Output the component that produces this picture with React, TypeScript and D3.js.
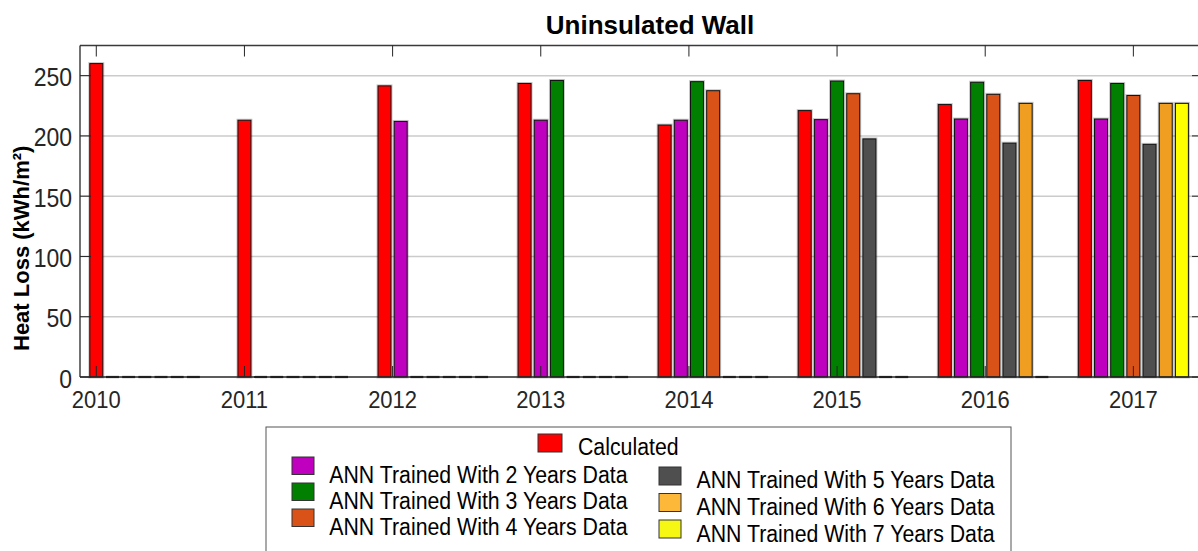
import React from "react";
import * as d3 from "d3";

const years = [2010, 2011, 2012, 2013, 2014, 2015, 2016, 2017];
const calculated = [260, 213, 241.5, 243.5, 209, 221, 226, 246];
const ann2 = [0, 0, 212, 213, 213, 213.5, 214, 214];
const ann3 = [0, 0, 0, 246, 245, 245.5, 244.5, 243.5];
const ann4 = [0, 0, 0, 0, 237.5, 235, 234.5, 233.5];
const ann5 = [0, 0, 0, 0, 0, 197.5, 194, 193];
const ann6 = [0, 0, 0, 0, 0, 0, 227, 227];
const ann7 = [0, 0, 0, 0, 0, 0, 0, 227];
const yTicks = [0, 50, 100, 150, 200, 250];
const seriesNames = [
  "Calculated",
  "ANN Trained With 2 Years Data",
  "ANN Trained With 3 Years Data",
  "ANN Trained With 4 Years Data",
  "ANN Trained With 5 Years Data",
  "ANN Trained With 6 Years Data",
  "ANN Trained With 7 Years Data",
];
const series = [calculated, ann2, ann3, ann4, ann5, ann6, ann7];
const barColors = ["#FF0000", "#BF00BF", "#007F00", "#D95319", "#4F4F4F", "#EF9E22", "#FFFF00"];
const legendColors = ["#FF0000", "#BF00BF", "#007F00", "#D95319", "#4F4F4F", "#FDB83A", "#F7F714"];

const W = 1198;
const H = 551;
const left = 80;
const right = 1203;
const top = 45.5;
const bottom = 377;
const FONT = "'Liberation Sans', Arial, Helvetica, sans-serif";

export default function App() {
  const x = d3.scaleLinear().domain([2009.89, 2017.47]).range([left, right]);
  const y = d3.scaleLinear().domain([0, 275]).range([bottom, top]);
  const slot = x(2010 + 0.1092) - x(2010);
  const bw = x(2010 + 0.0876) - x(2010);

  const bars: any[] = [];
  years.forEach((yr, gi) => {
    const n = series.filter((s) => s[gi] > 0).length;
    series.forEach((s, si) => {
      const cx = x(yr) + (si - (n - 1) / 2) * slot;
      bars.push({ key: `${gi}-${si}`, cx, v: s[gi], si });
    });
  });

  const col1 = [1, 2, 3];
  const col2 = [4, 5, 6];
  const LT = (tx: number, ty: number) => `translate(${tx},${ty}) scale(1,1.08)`;

  return (
    <svg width={W} height={H} style={{ position: "absolute", left: 0, top: 0, background: "#fff" }} fontFamily={FONT}>
      <rect x={0} y={0} width={W} height={H} fill="#fff" />
      {yTicks.filter((t) => t > 0).map((t) => (
        <line key={"g" + t} x1={left} x2={right} y1={y(t)} y2={y(t)} stroke="#CBCBCB" strokeWidth={1.5} />
      ))}
      {bars.map((b) =>
        b.v > 0 ? (
          <g key={b.key}>
            <rect x={b.cx - bw / 2} y={y(b.v)} width={bw} height={y(0) - y(b.v)} fill="none" stroke="rgba(0,0,0,0.22)" strokeWidth={3} />
            <rect x={b.cx - bw / 2} y={y(b.v)} width={bw} height={y(0) - y(b.v)} fill={barColors[b.si]} stroke="#111" strokeWidth={1} />
          </g>
        ) : (
          <line key={b.key} x1={b.cx - bw / 2} x2={b.cx + bw / 2} y1={y(0)} y2={y(0)} stroke="#111" strokeWidth={2.2} />
        )
      )}
      <line x1={left} x2={right} y1={top} y2={top} stroke="#3a3a3a" strokeWidth={1.3} />
      <line x1={left} x2={right} y1={bottom} y2={bottom} stroke="#262626" strokeWidth={1.5} />
      <line x1={left} x2={left} y1={top} y2={bottom} stroke="#262626" strokeWidth={1.3} />
      <line x1={right} x2={right} y1={top} y2={bottom} stroke="#262626" strokeWidth={1.3} />
      {yTicks.map((t) => (
        <g key={"yt" + t}>
          <line x1={left} x2={left + 11} y1={y(t)} y2={y(t)} stroke="#262626" strokeWidth={1} />
          <line x1={right - 11} x2={right} y1={y(t)} y2={y(t)} stroke="#262626" strokeWidth={1} />
          <text transform={`translate(72,${y(t) + 10.5}) scale(1,1.1)`} textAnchor="end" fontSize={23} fill="#262626">{t}</text>
        </g>
      ))}
      {years.map((yr) => (
        <g key={"xt" + yr}>
          <line x1={x(yr)} x2={x(yr)} y1={bottom} y2={bottom - 11} stroke="#262626" strokeWidth={1} />
          <line x1={x(yr)} x2={x(yr)} y1={top} y2={top + 11} stroke="#262626" strokeWidth={1} />
          <text transform={`translate(${x(yr)},408) scale(1,1.05)`} textAnchor="middle" fontSize={22} fill="#262626">{yr}</text>
        </g>
      ))}
      <text x={650} y={34} textAnchor="middle" fontSize={26} fontWeight="bold" fill="#000">Uninsulated Wall</text>
      <text transform={`translate(28.5,351) rotate(-90)`} textAnchor="start" fontSize={22} fontWeight="bold" fill="#000">
        Heat Loss (kWh/m²)
      </text>
      <rect x={266} y={427} width={745} height={140} fill="#fff" stroke="#555" strokeWidth={1} />
      <rect x={538} y={434} width={24} height={18} fill={legendColors[0]} stroke="#333" strokeWidth={1} />
      <text transform={LT(578, 455)} fontSize={21.3} fill="#000">{seriesNames[0]}</text>
      {col1.map((si, r) => (
        <g key={"l1" + si}>
          <rect x={292} y={457 + r * 26} width={22} height={17.5} fill={legendColors[si]} stroke="#333" strokeWidth={1} />
          <text transform={LT(329.3, 483.3 + r * 25.9)} fontSize={21.3} fill="#000">{seriesNames[si]}</text>
        </g>
      ))}
      {col2.map((si, r) => (
        <g key={"l2" + si}>
          <rect x={659} y={467 + r * 26.5} width={22} height={18} fill={legendColors[si]} stroke="#333" strokeWidth={1} />
          <text transform={LT(696.5, 488 + r * 26.8)} fontSize={21.3} fill="#000">{seriesNames[si]}</text>
        </g>
      ))}
    </svg>
  );
}
